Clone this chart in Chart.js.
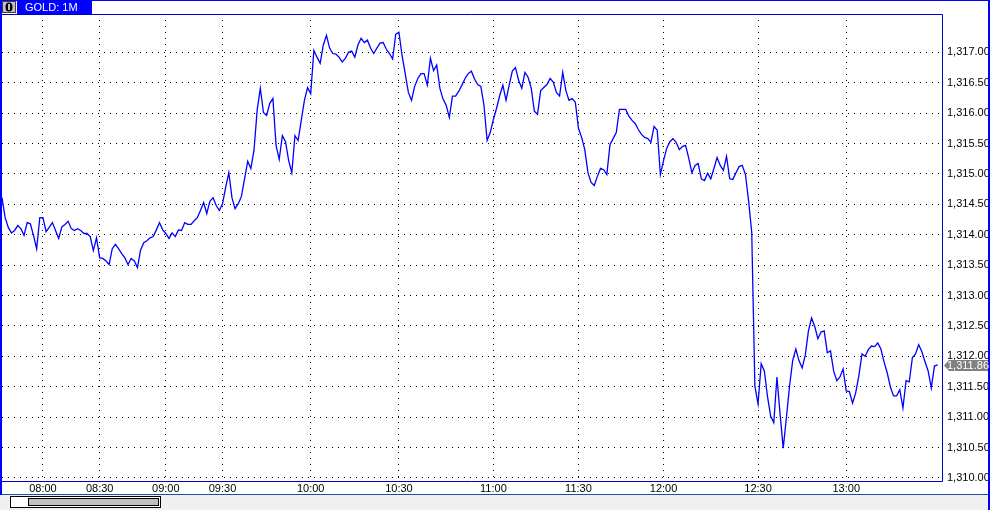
<!DOCTYPE html>
<html><head><meta charset="utf-8">
<script src="https://cdn.jsdelivr.net/npm/chart.js@4.4.1/dist/chart.umd.min.js"></script>
<style>
html,body{margin:0;padding:0;background:#fff;overflow:hidden;}
canvas{display:block;}
</style></head><body>
<canvas id="c" width="990" height="510"></canvas>
<script>
const titleText = 'GOLD: 1M';
const tickBars = [13, 31, 52, 70, 98, 126, 156, 183, 210, 240, 268];
const tickLabels = ['08:00','08:30','09:00','09:30','10:00','10:30','11:00','11:30','12:00','12:30','13:00'];
const priceTicks = [1310, 1310.5, 1311, 1311.5, 1312, 1312.5, 1313, 1313.5, 1314, 1314.5, 1315, 1315.5, 1316, 1316.5, 1317];
const priceMin = 1309.95;
const priceMax = 1317.63;
const barMax = 298.4;
const lastPrice = 1311.86;
const prices = [
1314.61,1314.28,1314.12,1314.03,1314.07,1314.15,1314.10,1313.99,1314.20,1314.18,
1313.99,1313.77,1314.28,1314.28,1314.05,1314.12,1314.20,1314.07,1313.94,1314.13,
1314.17,1314.22,1314.10,1314.07,1314.10,1314.07,1314.02,1314.02,1313.97,1313.74,
1313.95,1313.62,1313.61,1313.57,1313.51,1313.77,1313.84,1313.77,1313.69,1313.62,
1313.51,1313.61,1313.57,1313.46,1313.75,1313.87,1313.90,1313.95,1313.97,1314.08,
1314.20,1314.08,1314.02,1313.94,1314.03,1313.97,1314.08,1314.07,1314.20,1314.17,
1314.17,1314.23,1314.28,1314.40,1314.53,1314.35,1314.55,1314.61,1314.48,1314.40,
1314.51,1314.78,1315.02,1314.61,1314.43,1314.51,1314.63,1314.92,1315.21,1315.09,
1315.39,1316.05,1316.41,1316.01,1315.96,1316.16,1316.24,1315.47,1315.24,1315.63,
1315.53,1315.22,1315.02,1315.63,1315.55,1315.88,1316.21,1316.42,1316.32,1317.03,
1316.92,1316.82,1317.12,1317.28,1317.07,1316.98,1316.97,1316.92,1316.84,1316.90,
1317.00,1317.02,1316.92,1317.12,1317.23,1317.16,1317.20,1317.07,1316.98,1317.07,
1317.15,1317.16,1317.05,1316.98,1316.89,1317.30,1317.33,1316.95,1316.65,1316.34,
1316.21,1316.44,1316.57,1316.65,1316.65,1316.46,1316.90,1316.70,1316.79,1316.41,
1316.23,1316.13,1315.93,1316.28,1316.28,1316.36,1316.46,1316.57,1316.65,1316.69,
1316.56,1316.47,1316.44,1316.13,1315.55,1315.68,1315.90,1316.08,1316.29,1316.46,
1316.21,1316.46,1316.69,1316.75,1316.54,1316.41,1316.67,1316.59,1316.41,1316.03,
1315.98,1316.37,1316.42,1316.47,1316.57,1316.51,1316.34,1316.28,1316.67,1316.37,
1316.21,1316.24,1316.18,1315.75,1315.60,1315.40,1315.02,1314.86,1314.81,1314.96,
1315.09,1315.07,1314.99,1315.48,1315.58,1315.68,1316.06,1316.06,1316.06,1315.95,
1315.88,1315.83,1315.73,1315.65,1315.60,1315.58,1315.52,1315.78,1315.72,1314.99,
1315.22,1315.42,1315.53,1315.58,1315.52,1315.40,1315.45,1315.47,1315.26,1315.02,
1315.14,1315.17,1314.92,1314.89,1315.01,1314.92,1315.09,1315.27,1315.14,1315.06,
1315.29,1314.92,1314.91,1315.02,1315.12,1315.14,1314.99,1314.56,1314.04,1311.51,
1311.22,1311.88,1311.76,1311.34,1311.02,1310.91,1311.66,1311.05,1310.49,1310.99,
1311.51,1311.93,1312.12,1311.93,1311.81,1312.02,1312.42,1312.63,1312.49,1312.29,
1312.40,1312.42,1312.06,1312.09,1311.76,1311.60,1311.66,1311.79,1311.43,1311.42,
1311.23,1311.40,1311.68,1312.04,1312.00,1312.11,1312.17,1312.16,1312.22,1312.12,
1311.91,1311.73,1311.50,1311.35,1311.35,1311.45,1311.15,1311.60,1311.58,1311.98,
1312.04,1312.19,1312.08,1311.91,1311.76,1311.48,1311.84,1311.86
];

const FONT = '"Liberation Sans", Arial, sans-serif';
const fmt = v => Number(v).toLocaleString('en-US', {minimumFractionDigits: 2, maximumFractionDigits: 2});

const chromePlugin = {
  id: 'chrome',
  beforeDraw(chart) {
    const ctx = chart.ctx;
    ctx.save();
    ctx.fillStyle = '#ffffff';
    ctx.fillRect(0, 0, chart.width, chart.height);
    ctx.restore();
  },
  afterDatasetsDraw(chart) {
    const ctx = chart.ctx;
    const a = chart.chartArea;
    ctx.save();
    ctx.strokeStyle = '#0000c8';
    ctx.lineWidth = 1;
    ctx.beginPath();
    ctx.moveTo(0, Math.round(a.top) + 0.5);
    ctx.lineTo(Math.round(a.right) + 0.5, Math.round(a.top) + 0.5);
    ctx.lineTo(Math.round(a.right) + 0.5, Math.round(a.bottom) + 0.5);
    ctx.lineTo(0, Math.round(a.bottom) + 0.5);
    ctx.stroke();
    ctx.restore();
  },
  afterDraw(chart) {
    const ctx = chart.ctx;
    const W = chart.width, H = chart.height;
    const y = chart.scales.y;
    ctx.save();
    ctx.fillStyle = '#f0f0f0';
    ctx.fillRect(0, 495, W, H - 495);
    ctx.fillStyle = '#1c4f9c';
    ctx.fillRect(0, 494, W - 2, 1);
    ctx.fillStyle = '#ffffff';
    ctx.fillRect(11, 497, 149, 10);
    ctx.strokeStyle = '#000000';
    ctx.lineWidth = 1;
    ctx.strokeRect(10.5, 496.5, 150, 11);
    ctx.fillStyle = '#c0c0c0';
    ctx.fillRect(28, 499, 130, 6);
    ctx.strokeRect(28.5, 498.5, 130, 7);
    ctx.fillStyle = '#0000ff';
    ctx.fillRect(0, 0, 2, 495);
    ctx.fillRect(0, 0, W, 1);
    ctx.fillRect(W - 2, 0, 2, H);
    ctx.fillStyle = '#0000ff';
    ctx.fillRect(17, 0, 75, 14);
    ctx.fillStyle = '#c0c0c0';
    ctx.fillRect(2, 1, 14, 12);
    ctx.strokeStyle = '#404040';
    ctx.strokeRect(2.5, 1.5, 13, 11);
    ctx.fillStyle = '#000000';
    ctx.beginPath();
    ctx.ellipse(9, 7, 3.5, 4.5, 0, 0, Math.PI * 2);
    ctx.fill();
    ctx.fillStyle = '#c0c0c0';
    ctx.fillRect(8, 4, 2, 6);
    ctx.fillStyle = '#ffffff';
    ctx.font = '11px ' + FONT;
    ctx.textBaseline = 'middle';
    ctx.textAlign = 'left';
    ctx.fillText(titleText, 25, 7.5);
    const py = Math.round(y.getPixelForValue(lastPrice));
    const a = chart.chartArea;
    const x0 = Math.round(a.right) + 2;
    ctx.fillStyle = '#808080';
    ctx.beginPath();
    ctx.moveTo(x0, py + 0.5);
    ctx.lineTo(x0 + 5, py - 5);
    ctx.lineTo(W - 2, py - 5);
    ctx.lineTo(W - 2, py + 6);
    ctx.lineTo(x0 + 5, py + 6);
    ctx.closePath();
    ctx.fill();
    ctx.fillStyle = '#ffffff';
    ctx.font = '11px ' + FONT;
    ctx.textBaseline = 'middle';
    ctx.fillText(fmt(lastPrice), a.right + 5, py + 1);
    ctx.restore();
  }
};

new Chart(document.getElementById('c'), {
  type: 'line',
  data: {
    datasets: [{
      data: prices.map((p, i) => ({x: i, y: p})),
      borderColor: '#0000ff',
      borderWidth: 1.3,
      pointRadius: 0,
      tension: 0,
      fill: false
    }]
  },
  options: {
    responsive: false,
    animation: false,
    devicePixelRatio: 1,
    layout: {padding: {left: 2, top: 14, right: 2, bottom: 15}},
    plugins: {legend: {display: false}, tooltip: {enabled: false}, title: {display: false}},
    scales: {
      x: {
        type: 'linear',
        min: 0,
        max: barMax,
        afterBuildTicks: s => { s.ticks = tickBars.map(v => ({value: v})); },
        afterFit: s => { s.height = 14; },
        ticks: {
          autoSkip: false, maxRotation: 0, padding: 1,
          color: '#000', font: {family: FONT, size: 11},
          callback: (v, i) => tickLabels[i]
        },
        grid: {color: '#000000', lineWidth: 1, drawTicks: false},
        border: {display: false, dash: [1, 5]}
      },
      y: {
        type: 'linear',
        position: 'right',
        min: priceMin,
        max: priceMax,
        afterBuildTicks: s => { s.ticks = priceTicks.map(v => ({value: v})); },
        afterFit: s => { s.width = 46; },
        ticks: {
          padding: 5, color: '#000', font: {family: FONT, size: 11},
          callback: v => fmt(v)
        },
        grid: {color: '#000000', lineWidth: 1, drawTicks: false},
        border: {display: false, dash: [1, 5]}
      }
    }
  },
  plugins: [chromePlugin]
});
</script>
</body></html>
